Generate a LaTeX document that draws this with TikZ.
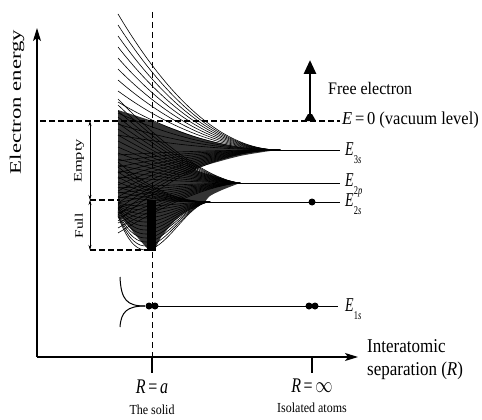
\documentclass[tikz,border=0pt]{standalone}
\usepackage{fontspec}
\setmainfont{Liberation Serif}
\usetikzlibrary{arrows.meta}
\newcommand{\lvlabel}[1]{\scalebox{1}[1.4]{\textit{E}\raisebox{-6pt}{\fontsize{8.5}{8.5}\selectfont #1}}}
\newcommand{\tall}[2]{\scalebox{1}[#1]{#2}}
\newcommand{\wide}[2]{\scalebox{#1}[1]{#2}}
\begin{document}
\begin{tikzpicture}[x=1pt,y=-1pt,
  axis/.style={line width=1.2pt,-{Stealth[length=13pt,width=8pt,inset=3pt]}},
  band/.style={line width=0.6pt,black},
  level/.style={line width=1pt},
  vdash/.style={line width=1pt,dash pattern=on 6pt off 4pt},
  hdash/.style={line width=1.4pt,dash pattern=on 6pt off 3pt},
  dimarrow/.style={line width=0.5pt,{Stealth[length=5pt,width=3pt]}-{Stealth[length=5pt,width=3pt]}},
  electron/.style={circle,fill=black,inner sep=0pt,minimum size=7pt},
  lbl/.style={inner sep=0pt,anchor=base west}]
\useasboundingbox (0,0) rectangle (482,420);
% coordinates
\coordinate (origin) at (37,357);
\coordinate (ytop) at (37,28);
\coordinate (xend) at (358,357);
% dense core of the bands
\fill[black!80] plot[smooth] coordinates {(118,110) (152,121) (200,138) (240,147) (277,150)}
  -- plot[smooth] coordinates {(277,150) (240,156) (200,167) (195,170)}
  -- plot[smooth] coordinates {(195,170) (220,178) (240,183)}
  -- plot[smooth] coordinates {(240,183) (222,190) (210,196) (205,202)}
  -- plot[smooth] coordinates {(205,202) (180,216) (162,236) (152,251) (138,238) (124,220) (118,210)}
  -- cycle;
% bands 3s upper
\foreach \d in {15,26,...,136}
  \draw[band] plot[domain=118:280,samples=30,smooth] (\x,{150-\d*((280-\x)/162)^2});
% 3s lower
\foreach \d in {5,11,...,71}
  \draw[band] plot[domain=118:280,samples=30,smooth] (\x,{150+\d*((280-\x)/162)^2});
% 2p upper
\foreach \d in {6,12,...,84}
  \draw[band] plot[domain=118:240,samples=30,smooth] (\x,{183-\d*((240-\x)/122)^1.5});
% 2p lower
\foreach \d in {5,10,...,50}
  \draw[band] plot[domain=118:240,samples=30,smooth] (\x,{183+\d*((240-\x)/122)^1.5});
% 2s upper
\foreach \d in {5,10,...,40}
  \draw[band] plot[domain=118:210,samples=30,smooth] (\x,{202-\d*((210-\x)/92)^2});
% 2s lower (with minimum near R=a)
\foreach \d in {4,8,...,48}
  \draw[band] plot[domain=118:210,samples=30,smooth] (\x,{202+\d*((210-\x)/92)^2*(1.05-(210-\x)/92)/0.1715});
% thick bar at R=a
\fill (147,200) rectangle (156,251);
% vertical dashed R=a
\coordinate (atop) at (152,12);
\coordinate (abot) at (152,357);
\draw[vdash] (atop) -- (abot);
% ticks
\coordinate (ta1) at (152,357); \coordinate (ta2) at (152,373);
\coordinate (tb1) at (312,357); \coordinate (tb2) at (312,373);
\draw[line width=1.2pt] (ta1) -- (ta2);
\draw[line width=1.2pt] (tb1) -- (tb2);
% axes
\draw[axis] (origin) -- (ytop);
\draw[axis] (origin) -- (xend);
% vacuum level
\coordinate (vac0) at (40,121);
\coordinate (vac1) at (340,121);
\draw[hdash] (vac0) -- (vac1);
% levels
\coordinate (c3s) at (277,150); \coordinate (e3s) at (340,150);
\coordinate (c2p) at (240,183); \coordinate (e2p) at (340,183);
\coordinate (c2s) at (205,202); \coordinate (e2s) at (340,202);
\coordinate (c1s) at (150,306); \coordinate (e1s) at (338,306);
\draw[level] (c3s) -- (e3s);
\draw[level] (c2p) -- (e2p);
\draw[level] (c2s) -- (e2s);
\draw[level] (c1s) -- (e1s);
% 1s splitting
\draw[line width=1pt] (120,277) .. controls (121,300) and (127,306) .. (145,306);
\draw[line width=1pt] (120,327) .. controls (121,312) and (127,306) .. (145,306);
% electrons
\node[electron] (d2s) at (312,202) {};
\node[electron] (d1sa) at (309,306) {};
\node[electron] (d1sb) at (315,306) {};
\node[electron] (d1sc) at (149,306) {};
\node[electron] (d1sd) at (155,306) {};
% empty / full
\coordinate (emT) at (90,121); \coordinate (emB) at (90,200);
\coordinate (fuB) at (90,250);
\coordinate (emR) at (120,200); \coordinate (fuR) at (150,250);
\draw[hdash,line width=1.2pt] (emB) -- (emR);
\draw[hdash,line width=1.2pt] (fuB) -- (fuR);
\draw[dimarrow] (emT) -- (emB);
\draw[dimarrow] (emB) -- (fuB);
\node[rotate=90,font=\fontsize{11.5}{11.5}\selectfont] (empty) at (79,161) {\wide{1.43}{Empty}};
\node[rotate=90,font=\fontsize{11.5}{11.5}\selectfont] (full) at (79,226) {\wide{1.35}{Full}};
% free electron
\coordinate (feB) at (310,116); \coordinate (feT) at (310,60);
\draw[line width=2.8pt,-{Triangle[length=14pt,width=12pt]}] (feB) -- (feT);
\fill (304,121) -- (316,121) -- (312,114) -- (308,114) -- cycle;
\node[lbl,font=\fontsize{16}{16}\selectfont] (fetext) at (328,95) {\tall{1.1}{Free electron}};
% labels
\node[lbl,font=\fontsize{16.5}{16.5}\selectfont] (vactext) at (342,124) {\tall{1.1}{\textit{E}\,=\,0 (vacuum level)}};
\node[lbl,font=\fontsize{14}{14}\selectfont] (l3s) at (345,155) {\lvlabel{3\textit{s}}};
\node[lbl,font=\fontsize{14}{14}\selectfont] (l2p) at (345,186) {\lvlabel{2\textit{p}}};
\node[lbl,font=\fontsize{14}{14}\selectfont] (l2s) at (345,206) {\lvlabel{2\textit{s}}};
\node[lbl,font=\fontsize{14}{14}\selectfont] (l1s) at (345,311) {\lvlabel{1\textit{s}}};
\node[rotate=90,font=\fontsize{16}{16}\selectfont] (ylab) at (17,102) {\wide{1.42}{Electron energy}};
\node[lbl,font=\fontsize{17}{17}\selectfont] (xlab1) at (367,352) {\tall{1.15}{Interatomic}};
\node[lbl,font=\fontsize{17}{17}\selectfont] (xlab2) at (367,375) {\tall{1.15}{separation (\textit{R})}};
\node[font=\fontsize{16}{16}\selectfont] (ra) at (152,387) {\tall{1.3}{\textit{R}\,=\,\textit{a}}};
\node[font=\fontsize{12}{12}\selectfont] (solid) at (152,410) {\tall{1.15}{The solid}};
\node[font=\fontsize{16}{16}\selectfont] (rinf) at (312,386) {\tall{1.3}{\textit{R}\,=\,$\infty$}};
\node[font=\fontsize{12}{12}\selectfont] (iso) at (312,408) {\tall{1.15}{Isolated atoms}};
\end{tikzpicture}
\end{document}
